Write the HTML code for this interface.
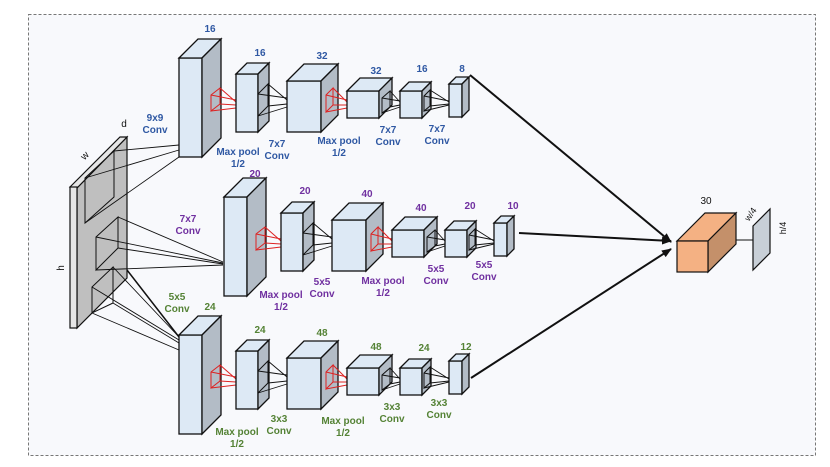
<!DOCTYPE html>
<html><head><meta charset="utf-8"><style>
html,body{margin:0;padding:0;background:#fff;}
svg{display:block;font-family:"Liberation Sans",Arial,sans-serif;}
.f{fill:#dde9f5;stroke:#111;stroke-width:1.3}
.s{fill:#b3bcc6;stroke:#111;stroke-width:1.3}
.t{fill:#dde9f5;stroke:#111;stroke-width:1.3}
.r{fill:none;stroke:#d22;stroke-width:1}
.k{fill:none;stroke:#111;stroke-width:1}
.l{stroke:#111;stroke-width:0.9;fill:none}
text{font-size:10px;font-weight:bold;text-anchor:middle}
</style></head><body>
<svg width="830" height="467" viewBox="0 0 830 467">
<rect x="0" y="0" width="830" height="467" fill="#fff"/>
<rect x="28.5" y="14.5" width="787" height="441" fill="#f8f9fc" stroke="#777" stroke-dasharray="3,2"/>
<defs>
<marker id="ah" markerWidth="10" markerHeight="8" refX="9" refY="4" orient="auto" markerUnits="userSpaceOnUse"><path d="M0,0 L10,4 L0,8 Z" fill="#111"/></marker>
<g id="br">
 <rect class="f" x="179" y="58" width="23" height="99"/>
 <polygon class="t" points="179,58 198,39 221,39 202,58"/>
 <polygon class="s" points="202,58 221,39 221,138 202,157"/>
 <polygon class="r" points="211,95 220,88 220,104 211,111"/>
 <path class="r" d="M211,95L236,100M220,88L236,102M220,104L236,105M211,111L236,108"/>
 <rect class="f" x="236" y="74" width="22" height="58"/>
 <polygon class="t" points="236,74 247,63 269,63 258,74"/>
 <polygon class="s" points="258,74 269,63 269,121 258,132"/>
 <polygon class="k" points="258,94 268,84 268,106 258,116"/>
 <path class="l" d="M258,94L287,98M268,84L287,100M268,106L287,104M258,116L287,107"/>
 <rect class="f" x="287" y="81" width="34" height="51"/>
 <polygon class="t" points="287,81 304,64 338,64 321,81"/>
 <polygon class="s" points="321,81 338,64 338,115 321,132"/>
 <polygon class="r" points="326,95 333,88 333,105 326,112"/>
 <path class="r" d="M326,95L347,100M333,88L347,102M333,105L347,105M326,112L347,108"/>
 <rect class="f" x="347" y="91" width="32" height="27"/>
 <polygon class="t" points="347,91 360,78 392,78 379,91"/>
 <polygon class="s" points="379,91 392,78 392,105 379,118"/>
 <polygon class="k" points="382,98 390,91 390,107 382,113"/>
 <path class="l" d="M382,98L400,101M390,91L400,102M390,107L400,105M382,113L400,107"/>
 <rect class="f" x="400" y="91" width="22" height="27"/>
 <polygon class="t" points="400,91 409,82 431,82 422,91"/>
 <polygon class="s" points="422,91 431,82 431,109 422,118"/>
 <polygon class="k" points="424,96 430,90 430,106 424,111"/>
 <path class="l" d="M424,96L449,101M430,90L449,102M430,106L449,104M424,111L449,105"/>
 <rect class="f" x="449" y="84" width="13" height="33"/>
 <polygon class="t" points="449,84 456,77 469,77 462,84"/>
 <polygon class="s" points="462,84 469,77 469,110 462,117"/>
</g>
</defs>

<polygon points="77,188 127,137 127,278 77,328" fill="#bfbfbf" stroke="#111" stroke-width="1.2"/>
<polygon points="70,187 120,137 127,137 77,188" fill="#e6e6e6" stroke="#111" stroke-width="1.2"/>
<rect x="70" y="187" width="7" height="141" fill="#e6e6e6" stroke="#111" stroke-width="1.2"/>
<polygon class="k" points="85,178 114,151 114,197 85,223"/>
<polygon class="k" points="96,237 118,217 118,248 96,270"/>
<polygon class="k" points="92,287 113,267 113,303 92,313"/>

<path class="l" d="M114,151L179,145M85,178L179,150M85,223L179,157"/>
<path class="l" d="M118,217L223,262M96,237L223,263M118,248L223,264M96,270L223,265"/>
<path class="l" d="M113,267L179,337M92,287L179,340M113,303L179,343M92,313L179,350"/>
<path d="M127,270L179,337" stroke="#111" stroke-width="1.5"/>

<use href="#br"/>
<use href="#br" transform="translate(45,139)"/>
<use href="#br" transform="translate(0,277)"/>

<polygon points="677,241 705,213 736,213 708,241" fill="#f4b183" stroke="#111" stroke-width="1.2"/>
<polygon points="708,241 736,213 736,244 708,272" fill="#c4906a" stroke="#111" stroke-width="1.2"/>
<rect x="677" y="241" width="31" height="31" fill="#f4b183" stroke="#111" stroke-width="1.2"/>
<line x1="736" y1="240" x2="753" y2="240" stroke="#111"/>
<polygon points="753,226 770,209 770,253 753,270" fill="#c8cfd7" stroke="#111" stroke-width="1.2"/>
<text x="706" y="204" fill="#111" style="font-weight:normal">30</text>
<text transform="translate(753,216) rotate(-55)" fill="#111" style="font-weight:normal;font-size:9px">w/4</text>
<text transform="translate(786,228) rotate(-90)" fill="#111" style="font-weight:normal;font-size:9px">h/4</text>

<line x1="470" y1="75" x2="671" y2="242" stroke="#111" stroke-width="2" marker-end="url(#ah)"/>
<line x1="519" y1="233" x2="671" y2="241" stroke="#111" stroke-width="2" marker-end="url(#ah)"/>
<line x1="471" y1="378" x2="671" y2="249" stroke="#111" stroke-width="2" marker-end="url(#ah)"/>

<text x="124" y="127" fill="#111" style="font-weight:normal">d</text>
<text transform="translate(87,158) rotate(-45)" fill="#111" style="font-weight:normal">w</text>
<text transform="translate(64,268) rotate(-90)" fill="#111" style="font-weight:normal">h</text>

<g fill="#2f58a3">
<text x="210" y="32">16</text><text x="260" y="56">16</text><text x="322" y="59">32</text>
<text x="376" y="74">32</text><text x="422" y="72">16</text><text x="462" y="72">8</text>
<text x="155" y="121">9x9</text><text x="155" y="133">Conv</text>
<text x="238" y="155">Max pool</text><text x="238" y="167">1/2</text>
<text x="277" y="147">7x7</text><text x="277" y="159">Conv</text>
<text x="339" y="144">Max pool</text><text x="339" y="156">1/2</text>
<text x="388" y="133">7x7</text><text x="388" y="145">Conv</text>
<text x="437" y="132">7x7</text><text x="437" y="144">Conv</text>
</g>
<g fill="#7030a0">
<text x="255" y="177">20</text><text x="305" y="194">20</text><text x="367" y="197">40</text>
<text x="421" y="211">40</text><text x="470" y="209">20</text><text x="513" y="209">10</text>
<text x="188" y="222">7x7</text><text x="188" y="234">Conv</text>
<text x="281" y="298">Max pool</text><text x="281" y="310">1/2</text>
<text x="322" y="285">5x5</text><text x="322" y="297">Conv</text>
<text x="383" y="284">Max pool</text><text x="383" y="296">1/2</text>
<text x="436" y="272">5x5</text><text x="436" y="284">Conv</text>
<text x="484" y="268">5x5</text><text x="484" y="280">Conv</text>
</g>
<g fill="#548235">
<text x="177" y="300">5x5</text><text x="177" y="312">Conv</text>
<text x="210" y="310">24</text><text x="260" y="333">24</text><text x="322" y="336">48</text>
<text x="376" y="350">48</text><text x="424" y="351">24</text><text x="466" y="350">12</text>
<text x="237" y="435">Max pool</text><text x="237" y="447">1/2</text>
<text x="279" y="422">3x3</text><text x="279" y="434">Conv</text>
<text x="343" y="424">Max pool</text><text x="343" y="436">1/2</text>
<text x="392" y="410">3x3</text><text x="392" y="422">Conv</text>
<text x="439" y="406">3x3</text><text x="439" y="418">Conv</text>
</g>
</svg>
</body></html>
